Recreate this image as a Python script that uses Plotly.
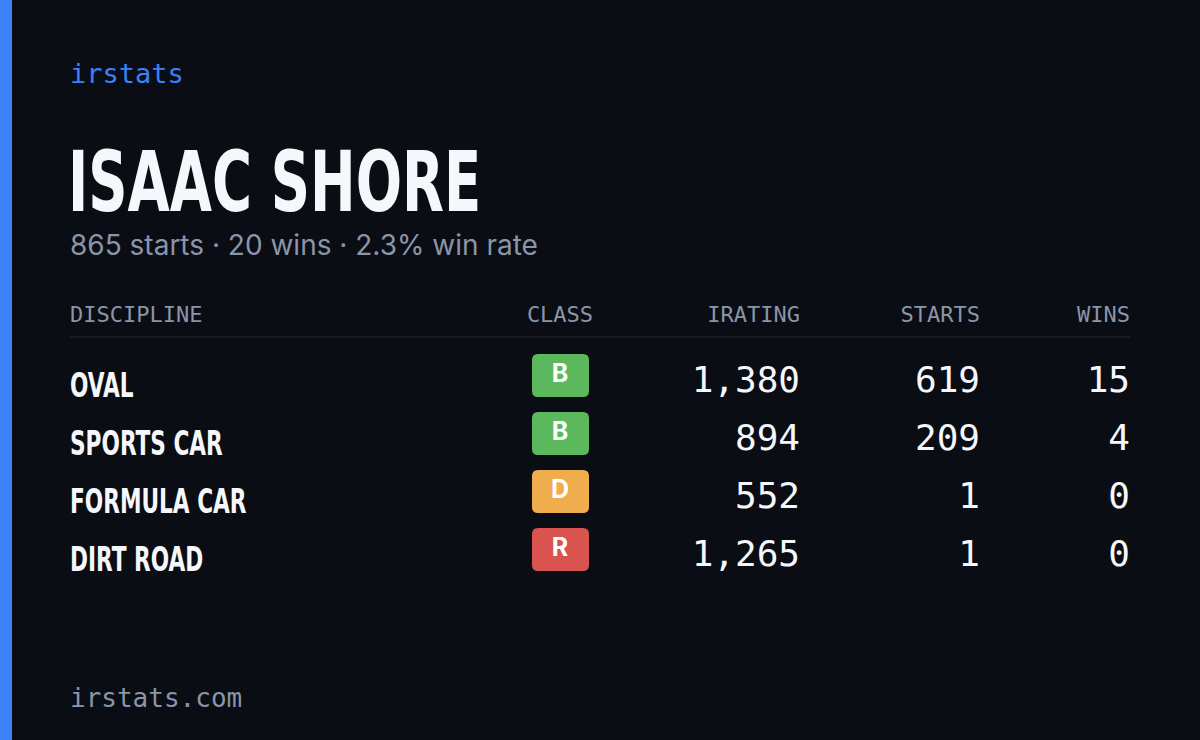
import plotly.graph_objects as go

driver = "ISAAC SHORE"
summary = "865 starts · 20 wins · 2.3% win rate"
headers = ["DISCIPLINE", "CLASS", "IRATING", "STARTS", "WINS"]
disciplines = ["OVAL", "SPORTS CAR", "FORMULA CAR", "DIRT ROAD"]
classes = ["B", "B", "D", "R"]
iratings = [1380, 894, 552, 1265]
starts = [619, 209, 1, 1]
wins = [15, 4, 0, 0]

class_colors = {"B": "#5cb85c", "D": "#f0ad4e", "R": "#d9534f"}
BG = "#0a0d14"
GREY = "#8b95a8"
MONO = "DejaVu Sans Mono"
COND = "DejaVu Sans Condensed, DejaVu Sans"

row_y = [383 + 58 * i for i in range(len(disciplines))]

fig = go.Figure()


def add_text(x, y, text, size, color, family, pos, weight="normal"):
    fig.add_trace(go.Scatter(
        x=x, y=y, text=text, mode="text", textposition=pos,
        textfont=dict(size=size, color=color, family=family, weight=weight),
        hoverinfo="skip", showlegend=False))


add_text([70], [76], ["irstats"], 27, "#3b82f6", MONO, "middle right")
add_text([68], [190], [driver], 83, "#f5f7fa", COND, "middle right", "bold")
add_text([70], [248], [summary], 28, GREY, "Inter, sans-serif", "middle right")
add_text([70], [700], ["irstats.com"], 26, GREY, MONO, "middle right")

# header row
add_text([70], [316], [headers[0]], 22, GREY, MONO, "middle right")
add_text([560], [316], [headers[1]], 22, GREY, MONO, "middle center")
add_text([800, 980, 1130], [316] * 3, headers[2:], 22, GREY, MONO, "middle left")

fig.add_shape(type="line", x0=70, x1=1130, y0=337, y1=337,
              line=dict(color="#1c212c", width=1.5))

# rows
add_text([70] * 4, [y + 6 for y in row_y], disciplines, 33, "#f5f7fa", COND,
         "middle right", "bold")
add_text([800] * 4, row_y, [f"{v:,}" for v in iratings], 36, "#f5f7fa", MONO, "middle left")
add_text([980] * 4, row_y, [str(v) for v in starts], 36, "#f5f7fa", MONO, "middle left")
add_text([1130] * 4, row_y, [str(v) for v in wins], 36, "#f5f7fa", MONO, "middle left")

for y, c in zip(row_y, classes):
    x0, x1, y0, y1, r = 532, 589, y - 29, y + 14, 6
    path = (f"M{x0+r},{y0} L{x1-r},{y0} Q{x1},{y0} {x1},{y0+r} L{x1},{y1-r} "
            f"Q{x1},{y1} {x1-r},{y1} L{x0+r},{y1} Q{x0},{y1} {x0},{y1-r} "
            f"L{x0},{y0+r} Q{x0},{y0} {x0+r},{y0} Z")
    fig.add_shape(type="path", path=path, fillcolor=class_colors[c], line_width=0, layer="below")
add_text([560] * 4, [y - 7 for y in row_y], classes, 25, "#ffffff",
         "Inter, sans-serif", "middle center", "bold")

# left accent bar
fig.add_shape(type="rect", x0=0, x1=12, y0=0, y1=740, fillcolor="#3b82f6", line_width=0)

fig.update_xaxes(range=[0, 1200], visible=False, fixedrange=True)
fig.update_yaxes(range=[740, 0], visible=False, fixedrange=True)
fig.update_layout(width=1200, height=740, margin=dict(l=0, r=0, t=0, b=0),
                  paper_bgcolor=BG, plot_bgcolor=BG)

# narrow the condensed headline / discipline labels further
js = """
document.body.style.margin='0';
document.body.style.background='#0a0d14';
var s = 0.73;
document.querySelectorAll('text').forEach(function(t){
  if ((t.style.fontFamily || '').indexOf('Condensed') >= 0) {
    t.style.fontStretch = 'condensed';
    var x = parseFloat(t.getAttribute('x') || 0);
    var old = t.getAttribute('transform') || '';
    t.setAttribute('transform', old + ' translate(' + (x * (1 - s)) + ',0) scale(' + s + ',1)');
  }
});
"""
fig.write_html("out.html", config={"displayModeBar": False}, post_script=js)
